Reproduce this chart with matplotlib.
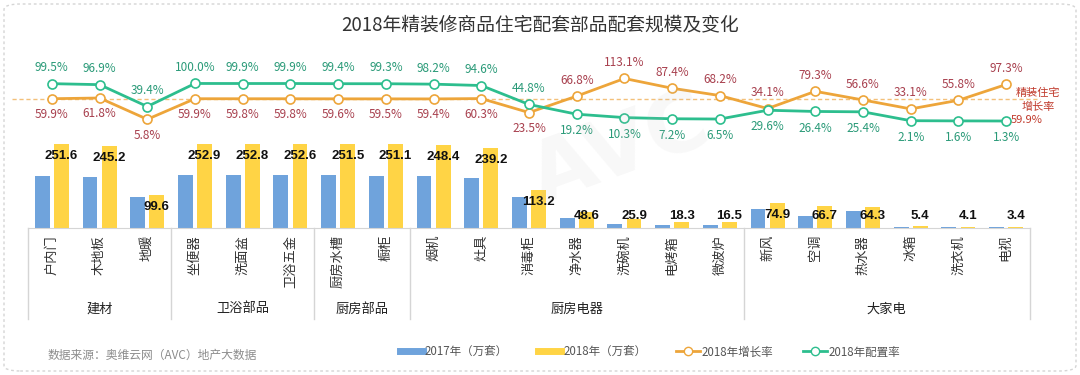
import matplotlib
matplotlib.use("Agg")
import matplotlib.pyplot as plt
from matplotlib.lines import Line2D
from matplotlib.patches import FancyBboxPatch
import matplotlib.transforms as mtransforms

plt.rcParams['font.family'] = ['Noto Sans CJK SC', 'DejaVu Sans']

# ---- data ----
items = ['户内门', '木地板', '地暖', '坐便器', '洗面盆', '卫浴五金', '厨房水槽', '橱柜',
         '烟机', '灶具', '消毒柜', '净水器', '洗碗机', '电烤箱', '微波炉',
         '新风', '空调', '热水器', '冰箱', '洗衣机', '电视']
groups = ['建材', '卫浴部品', '厨房部品', '厨房电器', '大家电']
group_sizes = [3, 3, 2, 7, 6]
v2017 = [157, 152, 94, 158, 158, 158, 158, 157, 156, 149, 92, 29, 12, 10, 10,
         56, 37, 52, 4, 2.6, 1.7]
v2018 = [251.6, 245.2, 99.6, 252.9, 252.8, 252.6, 251.5, 251.1, 248.4, 239.2, 113.2,
         48.6, 25.9, 18.3, 16.5, 74.9, 66.7, 64.3, 5.4, 4.1, 3.4]
growth = [59.9, 61.8, 5.8, 59.9, 59.8, 59.8, 59.6, 59.5, 59.4, 60.3, 23.5,
          66.8, 113.1, 87.4, 68.2, 34.1, 79.3, 56.6, 33.1, 55.8, 97.3]
config = [99.5, 96.9, 39.4, 100.0, 99.9, 99.9, 99.4, 99.3, 98.2, 94.6, 44.8,
          19.2, 10.3, 7.2, 6.5, 29.6, 26.4, 25.4, 2.1, 1.6, 1.3]
avg_growth = 59.9

c_blue = '#6FA3DC'
c_yellow = '#FFD445'
c_orange = '#EDA53A'
c_green = '#2DBE8E'
c_green_txt = '#2A9A78'
c_red_txt = '#A8404E'

W, H = 1080, 375
fig = plt.figure(figsize=(10.8, 3.75), dpi=100)

# rounded dashed frame
frame = FancyBboxPatch((4 / W, 4 / H), 1 - 8 / W, 1 - 8 / H,
                       boxstyle='round,pad=0,rounding_size=0.015',
                       transform=fig.transFigure, fill=False,
                       edgecolor='#D5D5D5', linestyle=(0, (2, 2)), linewidth=1)
fig.patches.append(frame)

left, right, bottom, top = 28, 1030, 228, 50
ax = fig.add_axes([left / W, 1 - bottom / H, (right - left) / W, (bottom - top) / H])
ax2 = ax.twinx()

n = len(items)
x = list(range(n))
bw = 0.31
ax.bar([i - 0.2 for i in x], v2017, width=bw, color=c_blue, zorder=2)
ax.bar([i + 0.2 for i in x], v2018, width=bw, color=c_yellow, zorder=2)
ax.set_xlim(-0.5, n - 0.5)
ax.set_ylim(0, 533)

for i, v in enumerate(v2018):
    ax.text(i + 0.2, max(v - 36, 36), f'{v:.1f}', ha='center', va='center',
            fontsize=9.5, fontweight='bold', family='Liberation Sans', color='#111111', zorder=5)

# lines on secondary axis
ax2.set_ylim(-280, 188)
ax2.axhline(avg_growth, xmin=-0.016, xmax=1.01, color='#F3C07A', lw=1,
            linestyle=(0, (3, 2)), clip_on=False, zorder=1)
ax2.plot(x, config, color=c_green, lw=2, marker='o', ms=6.5, mfc='white',
         mec=c_green, mew=1.2, zorder=4)
ax2.plot(x, growth, color=c_orange, lw=2, marker='o', ms=6.5, mfc='white',
         mec=c_orange, mew=1.2, zorder=3)

for i in x:
    up = i <= 10
    ax2.annotate(f'{config[i]:.1f}%', (i, config[i]), xytext=(0, 11.5 if up else -12),
                 textcoords='offset points', ha='center', va='center',
                 fontsize=8.5, color=c_green_txt)
    ax2.annotate(f'{growth[i]:.1f}%', (i, growth[i]), xytext=(0, -11.5 if up else 11.5),
                 textcoords='offset points', ha='center', va='center',
                 fontsize=8.5, color=c_red_txt)

fig.text(1038 / W, 1 - 93 / H, '精装住宅', ha='center', va='center', fontsize=8, color='#C0392B')
fig.text(1038 / W, 1 - 107 / H, '增长率', ha='center', va='center', fontsize=8, color='#C0392B')
fig.text(1027 / W, 1 - 120 / H, f'{avg_growth:.1f}%', ha='center', va='center',
         fontsize=8, color='#C0392B')

# axes styling
for a in (ax, ax2):
    for s in ('top', 'right', 'left'):
        a.spines[s].set_visible(False)
    a.set_yticks([])
ax2.spines['bottom'].set_visible(False)
ax.spines['bottom'].set_color('#D5D5D5')
ax.set_xticks(x)
ax.set_xticklabels(items, rotation=90, fontsize=9.5, color='#333333')
ax.tick_params(axis='x', length=0, pad=5)

# group separators and labels
trans = mtransforms.blended_transform_factory(ax.transData, ax.transAxes)
edges = [-0.5]
for s in group_sizes:
    edges.append(edges[-1] + s)
for e in edges:
    ax.plot([e, e], [0, -0.511], transform=trans, color='#D5D5D5', lw=1, clip_on=False)
for g, a0, a1 in zip(groups, edges[:-1], edges[1:]):
    ax.text((a0 + a1) / 2, -0.455, g, transform=trans, ha='center', va='center',
            fontsize=9.5, color='#222222')

# watermark
fig.text(620 / W, 1 - 150 / H, 'AVC', fontsize=60, fontweight='bold', color='#BBBBBB',
         alpha=0.1, rotation=20, ha='center', va='center', family='DejaVu Sans')

fig.text(540 / W, 1 - 25 / H, '2018年精装修商品住宅配套部品配套规模及变化',
         ha='center', va='center', fontsize=13.5, color='#333333')
fig.text(48 / W, 1 - 355 / H, '数据来源：奥维云网（AVC）地产大数据', ha='left', va='center',
         fontsize=8.5, color='#8C8C8C')

handles = [Line2D([], [], color=c_blue, lw=5),
           Line2D([], [], color=c_yellow, lw=5),
           Line2D([], [], color=c_orange, lw=2, marker='o', ms=6, mfc='white', mec=c_orange),
           Line2D([], [], color=c_green, lw=2, marker='o', ms=6, mfc='white', mec=c_green)]
labels = ['2017年（万套）', '2018年（万套）', '2018年增长率', '2018年配置率']
fig.legend(handles, labels, loc='center', bbox_to_anchor=(650 / W, 1 - 352 / H), ncol=4,
           frameon=False, fontsize=8.3, handlelength=2.0, handletextpad=0.2,
           columnspacing=2.6, numpoints=1, labelcolor='#555555')

fig.savefig('out.png', dpi=100)
